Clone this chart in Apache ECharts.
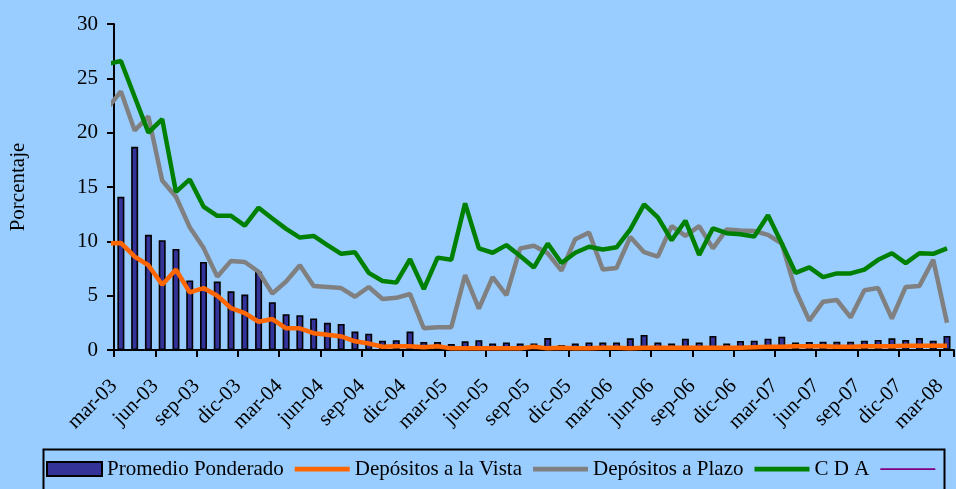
<!DOCTYPE html>
<html>
<head>
<meta charset="utf-8">
<script src="https://cdn.jsdelivr.net/npm/echarts@6/dist/echarts.min.js"></script>
<style>
html,body{margin:0;padding:0;background:#99CCFF;}
#c{width:956px;height:489px;}
</style>
</head>
<body>
<div id="c"></div>
<script>
// Months: index 0 = feb-03 (partly outside the plot, clipped), last = mar-08
const months = ['feb-03','mar-03','abr-03','may-03','jun-03','jul-03','ago-03','sep-03','oct-03','nov-03','dic-03',
  'ene-04','feb-04','mar-04','abr-04','may-04','jun-04','jul-04','ago-04','sep-04','oct-04','nov-04','dic-04',
  'ene-05','feb-05','mar-05','abr-05','may-05','jun-05','jul-05','ago-05','sep-05','oct-05','nov-05','dic-05',
  'ene-06','feb-06','mar-06','abr-06','may-06','jun-06','jul-06','ago-06','sep-06','oct-06','nov-06','dic-06',
  'ene-07','feb-07','mar-07','abr-07','may-07','jun-07','jul-07','ago-07','sep-07','oct-07','nov-07','dic-07',
  'ene-08','feb-08','mar-08'];

const tickLabels = ['mar-03','jun-03','sep-03','dic-03','mar-04','jun-04','sep-04','dic-04','mar-05','jun-05',
  'sep-05','dic-05','mar-06','jun-06','sep-06','dic-06','mar-07','jun-07','sep-07','dic-07','mar-08'];

const promedioPonderado = [null, 14.1, 18.7, 10.6, 10.1, 9.3, 6.4, 8.1, 6.3, 5.4, 5.1, 7.2, 4.4, 3.3, 3.2, 2.9,
  2.5, 2.4, 1.7, 1.5, 0.86, 0.9, 1.7, 0.74, 0.74, 0.55, 0.8, 0.9, 0.6, 0.7, 0.6, 0.6, 1.1, 0.45, 0.6, 0.7, 0.7,
  0.7, 1.07, 1.38, 0.7, 0.6, 1.04, 0.7, 1.29, 0.6, 0.83, 0.86, 1.04, 1.23, 0.7, 0.74, 0.77, 0.77, 0.77, 0.86,
  0.92, 1.07, 0.92, 1.1, 0.86, 1.29];

const depositosVista = [9.8, 9.85, 8.6, 7.8, 6.0, 7.4, 5.3, 5.7, 5.0, 3.85, 3.4, 2.6, 2.85, 2.0, 2.0, 1.55, 1.4,
  1.25, 0.8, 0.6, 0.3, 0.35, 0.35, 0.25, 0.35, 0.15, 0.15, 0.15, 0.15, 0.15, 0.15, 0.3, 0.15, 0.2, 0.15, 0.15,
  0.2, 0.2, 0.15, 0.2, 0.2, 0.2, 0.2, 0.2, 0.2, 0.2, 0.2, 0.25, 0.3, 0.3, 0.35, 0.35, 0.35, 0.3, 0.3, 0.35,
  0.35, 0.35, 0.4, 0.4, 0.4, 0.4];

const depositosPlazo = [22.2, 23.8, 20.2, 21.5, 15.6, 14.1, 11.3, 9.4, 6.75, 8.2, 8.1, 7.2, 5.2, 6.3, 7.8, 5.9,
  5.8, 5.7, 4.9, 5.8, 4.7, 4.8, 5.15, 2.0, 2.1, 2.1, 6.9, 3.8, 6.7, 5.05, 9.35, 9.6, 8.9, 7.3, 10.2, 10.8, 7.4,
  7.55, 10.4, 9.0, 8.6, 11.4, 10.5, 11.4, 9.35, 11.1, 11.0, 10.95, 10.6, 9.8, 5.5, 2.7, 4.45, 4.6, 3.0, 5.5,
  5.7, 2.9, 5.8, 5.9, 8.3, 2.5];

const cda = [26.3, 26.6, 23.3, 20.0, 21.25, 14.55, 15.7, 13.2, 12.35, 12.35, 11.45, 13.1, 12.1, 11.15, 10.35,
  10.5, 9.65, 8.85, 9.0, 7.1, 6.35, 6.2, 8.35, 5.6, 8.5, 8.3, 13.5, 9.35, 8.95, 9.65, 8.65, 7.6, 9.8, 8.0, 8.95,
  9.5, 9.25, 9.45, 11.1, 13.4, 12.2, 10.1, 11.9, 8.75, 11.2, 10.75, 10.65, 10.45, 12.4, 9.8, 7.1, 7.6, 6.7,
  7.05, 7.05, 7.4, 8.3, 8.9, 8.0, 8.9, 8.85, 9.35];

const seriesNames = ['Promedio Ponderado', 'Depósitos a la Vista', 'Depósitos a Plazo', 'C D A', ' '];

function pairs(arr) {
  // month index i (feb-03 = 0) sits at the centre of its monthly band
  return arr.map((v, i) => [i - 0.5, v]);
}

const FONT = 'Liberation Serif';
const thickLine = 'path://M0,0M0,14M0,4.8L55,4.8L55,9.4L0,9.4Z';
const thinLine = 'path://M0,0M0,14M0,6.2L55,6.2L55,7.9L0,7.9Z';

const chart = echarts.init(document.getElementById('c'), null, {renderer: 'canvas'});
chart.setOption({
  backgroundColor: '#99CCFF',
  animation: false,
  textStyle: {fontFamily: FONT, color: '#000'},
  grid: {left: 112, top: 24, width: 852, height: 326, containLabel: false},
  xAxis: {
    type: 'value', min: 0, max: 61, interval: 3,
    axisLine: {show: true, lineStyle: {color: '#000', width: 2}},
    axisTick: {show: true, length: 7, lineStyle: {color: '#000', width: 2}},
    splitLine: {show: false},
    axisLabel: {
      rotate: 45, margin: 33, fontSize: 21, fontFamily: FONT, color: '#000',
      showMinLabel: true, showMaxLabel: true,
      formatter: v => (tickLabels[v / 3] !== undefined ? tickLabels[v / 3] : '')
    }
  },
  yAxis: {
    type: 'value', min: 0, max: 30, interval: 5,
    name: 'Porcentaje', nameLocation: 'middle', nameGap: 85,
    nameTextStyle: {fontSize: 21, fontFamily: FONT, color: '#000'},
    axisLine: {show: true, lineStyle: {color: '#000', width: 2}},
    axisTick: {show: true, length: 7, lineStyle: {color: '#000', width: 2}},
    splitLine: {show: false},
    axisLabel: {margin: 16, fontSize: 21, fontFamily: FONT, color: '#000'}
  },
  legend: {
    left: 46, top: 458, padding: 0, itemGap: 11, itemWidth: 55, itemHeight: 14,
    textStyle: {fontSize: 21, fontFamily: FONT, color: '#000', lineHeight: 22},
    data: [
      {name: seriesNames[0], icon: 'rect'},
      {name: seriesNames[1], icon: thickLine, itemStyle: {color: '#FF6600', borderWidth: 0}},
      {name: seriesNames[2], icon: thickLine, itemStyle: {color: '#808080', borderWidth: 0}},
      {name: seriesNames[3], icon: thickLine, itemStyle: {color: '#008000', borderWidth: 0}},
      {name: seriesNames[4], icon: thinLine, itemStyle: {color: '#800080', borderWidth: 0}}
    ]
  },
  graphic: [{
    type: 'rect', left: 41, top: 447, silent: true, z: 100,
    shape: {width: 901, height: 70},
    style: {fill: 'none', stroke: '#000', lineWidth: 2}
  }],
  series: [
    {
      name: seriesNames[0], type: 'bar', barWidth: 7, data: pairs(promedioPonderado),
      itemStyle: {color: '#333399', borderColor: '#000', borderWidth: 1.6}
    },
    {
      name: seriesNames[1], type: 'line', data: pairs(depositosVista), symbol: 'none',
      color: '#FF6600', lineStyle: {color: '#FF6600', width: 4.5}
    },
    {
      name: seriesNames[2], type: 'line', data: pairs(depositosPlazo), symbol: 'none',
      color: '#808080', lineStyle: {color: '#808080', width: 4.5}
    },
    {
      name: seriesNames[3], type: 'line', data: pairs(cda), symbol: 'none',
      color: '#008000', lineStyle: {color: '#008000', width: 4.5}
    },
    {
      name: seriesNames[4], type: 'line', data: [], symbol: 'none',
      color: '#800080', lineStyle: {color: '#800080', width: 2}
    }
  ]
});
</script>
</body>
</html>
